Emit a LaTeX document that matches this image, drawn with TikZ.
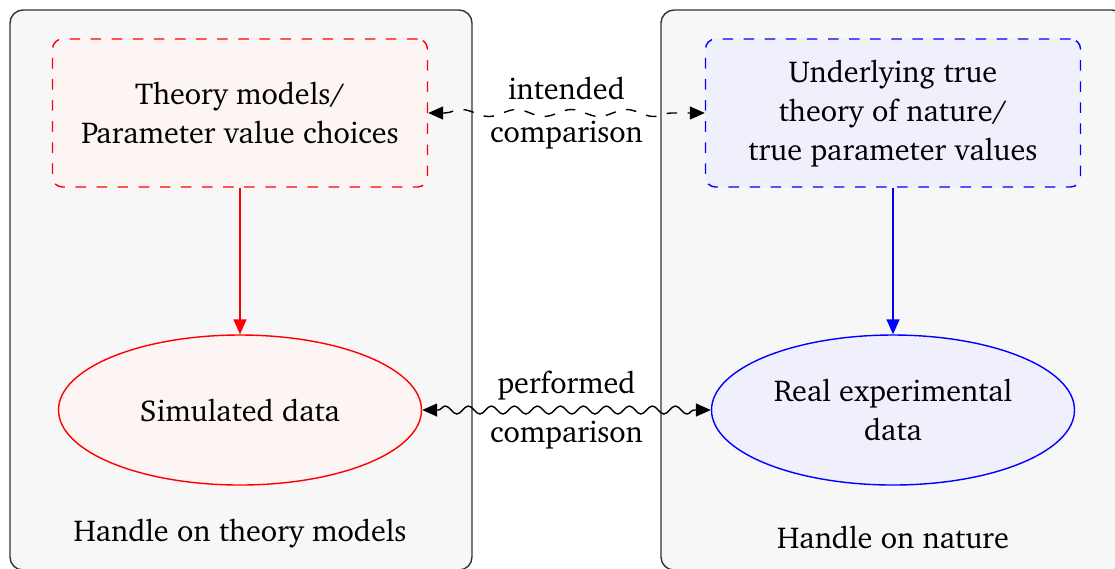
\documentclass[tikz,border=0pt]{standalone}
\usepackage[T1]{fontenc}
\usepackage{charter}
\usetikzlibrary{arrows.meta,shapes.geometric,decorations.pathmorphing}

\definecolor{panelgray}{RGB}{247,247,247}
\definecolor{theoryfill}{RGB}{253,244,244}
\definecolor{naturefill}{RGB}{240,240,252}

\tikzset{
	panel/.style={draw=black!80,fill=panelgray,rounded corners=0.13cm,inner sep=0pt},
	modelbox/.style={dashed,rounded corners=0.1cm,minimum width=3.75cm,minimum height=1.48cm,align=center},
	databox/.style={ellipse,minimum width=3.63cm,minimum height=1.50cm,align=center,inner sep=0pt},
	txt/.style={font=\fontsize{8.6}{11.1}\selectfont}
}

\begin{document}
\begin{tikzpicture}[every node/.append style={txt}, >={Triangle[length=0.15cm,width=0.13cm]}]
			\useasboundingbox (0,0) rectangle (11.15,-5.68);

			% the two sides
			\node[panel,minimum width=4.62cm,minimum height=5.60cm] (theoryside) at (2.41,-2.90) {};
			\node[panel,minimum width=4.64cm,minimum height=5.60cm] (natureside) at (8.93,-2.90) {};

			\begin{scope}[every node/.append style={modelbox}]
				\node[draw=red,fill=theoryfill] (models) at (2.40,-1.13) {Theory models/\\Parameter value choices};
				\node[draw=blue,fill=naturefill] (truth) at (8.93,-1.13) {Underlying true\\theory of nature/\\true parameter values};
			\end{scope}

			\begin{scope}[every node/.append style={databox}]
				\node[draw=red,fill=theoryfill] (simdata) at (2.40,-4.10) {Simulated data};
				\node[draw=blue,fill=naturefill] (realdata) at (8.93,-4.10) {Real experimental\\data};
			\end{scope}

			\node (theorylabel) at (2.40,-5.33) {Handle on theory models};
			\node (naturelabel) at (8.93,-5.37) {Handle on nature};

			\begin{scope}[every edge/.style={draw}]
				\path [->,red] (models) edge (simdata);
				\path [->,blue] (truth) edge (realdata);
				\path [<->,dashed] (models) edge [decorate,decoration={snake,amplitude=0.35mm,segment length=5.5mm,pre length=1.6mm,post length=1.6mm}]
					node [align=center] {intended\\[0.4mm]comparison} (truth);
				\path [<->] (simdata) edge [decorate,decoration={snake,amplitude=0.4mm,segment length=2.3mm,pre length=1.6mm,post length=1.6mm}]
					node [align=center] {performed\\[1mm]comparison} (realdata);
			\end{scope}
		\end{tikzpicture}
\end{document}
